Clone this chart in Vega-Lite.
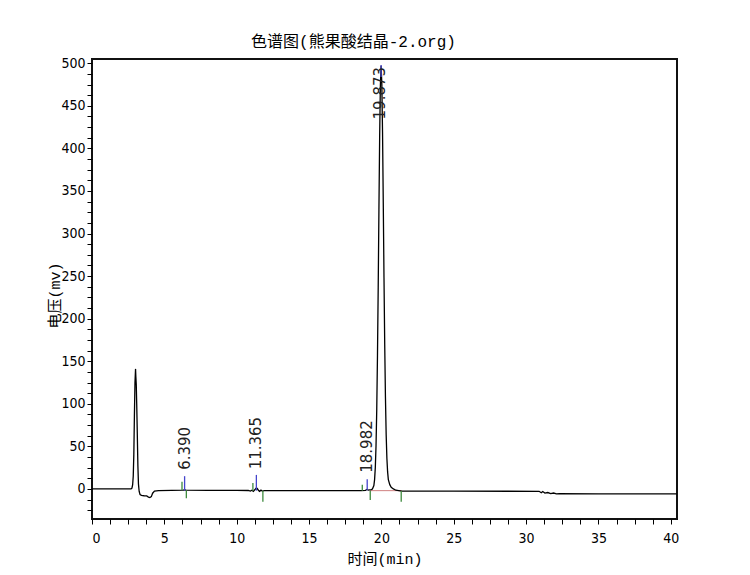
{
  "$schema": "https://vega.github.io/schema/vega-lite/v6.json",
  "autosize": {"type": "none"},
  "padding": {"left": 92, "top": 59, "right": 73, "bottom": 56},
  "width": 585,
  "height": 460,
  "background": "white",
  "config": {
    "view": {"stroke": "#111", "strokeWidth": 2},
    "axis": {
      "grid": false,
      "domain": false,
      "tickColor": "#000",
      "tickSize": 5,
      "labelOverlap": false,
      "labelBound": false,
      "labelFont": "'DejaVu Sans Condensed', 'Liberation Sans'",
      "labelFontSize": 14,
      "labelColor": "#000",
      "titleFont": "'Liberation Mono', 'Noto Sans CJK SC'",
      "titleFontSize": 16,
      "titleFontWeight": "normal",
      "titleColor": "#000"
    }
  },
  "title": {
    "text": "色谱图(熊果酸结晶-2.org)",
    "font": "'Liberation Mono', 'Noto Sans CJK SC'",
    "fontSize": 16,
    "fontWeight": "normal",
    "color": "#000",
    "anchor": "middle",
    "frame": "group",
    "dx": -31,
    "dy": 21,
    "offset": 11,
    "baseline": "bottom"
  },
  "datasets": {
    "trace": [
      {"t": 0, "mv": 0}, {"t": 1, "mv": 0}, {"t": 2, "mv": 0}, {"t": 2.7, "mv": 0},
      {"t": 2.76, "mv": 1}, {"t": 2.81, "mv": 5}, {"t": 2.85, "mv": 15}, {"t": 2.89, "mv": 40},
      {"t": 2.93, "mv": 85}, {"t": 2.97, "mv": 125}, {"t": 3.01, "mv": 141}, {"t": 3.03, "mv": 132},
      {"t": 3.06, "mv": 122}, {"t": 3.09, "mv": 100}, {"t": 3.13, "mv": 65}, {"t": 3.17, "mv": 28},
      {"t": 3.21, "mv": 6}, {"t": 3.26, "mv": -3}, {"t": 3.32, "mv": -6.5}, {"t": 3.42, "mv": -7.5},
      {"t": 3.6, "mv": -8}, {"t": 3.78, "mv": -8.2}, {"t": 3.9, "mv": -9.5}, {"t": 4.0, "mv": -10},
      {"t": 4.1, "mv": -9}, {"t": 4.19, "mv": -5}, {"t": 4.32, "mv": -2.5}, {"t": 4.6, "mv": -2},
      {"t": 5.5, "mv": -1.6}, {"t": 6.3, "mv": -1.5}, {"t": 6.4, "mv": -1.1}, {"t": 6.5, "mv": -1.5},
      {"t": 8, "mv": -1.6}, {"t": 10, "mv": -1.7}, {"t": 10.8, "mv": -1.8}, {"t": 10.95, "mv": -2.6},
      {"t": 11.05, "mv": -1.6}, {"t": 11.15, "mv": -2.8}, {"t": 11.25, "mv": -1}, {"t": 11.32, "mv": 0.5},
      {"t": 11.37, "mv": 1.2}, {"t": 11.43, "mv": 0.2}, {"t": 11.5, "mv": -1.5}, {"t": 11.58, "mv": -2.8},
      {"t": 11.68, "mv": -1.4}, {"t": 11.78, "mv": -2.6}, {"t": 11.9, "mv": -2}, {"t": 13, "mv": -2},
      {"t": 16, "mv": -2}, {"t": 18.6, "mv": -2}, {"t": 18.9, "mv": -1.6}, {"t": 19.0, "mv": -0.6},
      {"t": 19.1, "mv": -1.3}, {"t": 19.3, "mv": -0.8}, {"t": 19.38, "mv": 0},
      {"t": 19.48, "mv": 4}, {"t": 19.53, "mv": 11}, {"t": 19.58, "mv": 25}, {"t": 19.63, "mv": 51},
      {"t": 19.68, "mv": 94}, {"t": 19.73, "mv": 157}, {"t": 19.78, "mv": 237}, {"t": 19.83, "mv": 328},
      {"t": 19.88, "mv": 413}, {"t": 19.93, "mv": 474}, {"t": 19.98, "mv": 497}, {"t": 20.03, "mv": 476},
      {"t": 20.08, "mv": 418}, {"t": 20.13, "mv": 336}, {"t": 20.18, "mv": 248}, {"t": 20.23, "mv": 170},
      {"t": 20.28, "mv": 108}, {"t": 20.33, "mv": 64}, {"t": 20.38, "mv": 36}, {"t": 20.43, "mv": 20},
      {"t": 20.48, "mv": 11}, {"t": 20.58, "mv": 5}, {"t": 20.68, "mv": 2}, {"t": 20.83, "mv": 0},
      {"t": 21.0, "mv": -1.5}, {"t": 21.4, "mv": -2.5}, {"t": 25, "mv": -2.6}, {"t": 30.9, "mv": -2.8},
      {"t": 31.05, "mv": -4.5}, {"t": 31.15, "mv": -3}, {"t": 31.3, "mv": -4.8}, {"t": 31.5, "mv": -4.2},
      {"t": 31.7, "mv": -5.4}, {"t": 31.9, "mv": -4.8}, {"t": 32.1, "mv": -5.8}, {"t": 32.3, "mv": -5.6},
      {"t": 35, "mv": -5.7}, {"t": 40.43, "mv": -5.8}
    ],
    "markers": [
      {"t": 6.40, "mv": -2, "mv2": 15, "kind": "rt"},
      {"t": 11.36, "mv": -2, "mv2": 16.5, "kind": "rt"},
      {"t": 19.02, "mv": -1.5, "mv2": 11.5, "kind": "rt"},
      {"t": 19.98, "mv": 484, "mv2": 498, "kind": "rt"},
      {"t": 6.22, "mv": -1.5, "mv2": 8.5, "kind": "int"},
      {"t": 6.52, "mv": -1.5, "mv2": -11, "kind": "int"},
      {"t": 11.12, "mv": -2, "mv2": 7, "kind": "int"},
      {"t": 11.81, "mv": -2, "mv2": -15, "kind": "int"},
      {"t": 18.68, "mv": -2, "mv2": 5, "kind": "int"},
      {"t": 19.23, "mv": -2, "mv2": -13, "kind": "int"},
      {"t": 21.37, "mv": -2.5, "mv2": -15, "kind": "int"}
    ],
    "baseline": [
      {"t": 19.2, "t2": 21.4, "mv": -2}
    ],
    "labels": [
      {"t": 6.40, "mv": 22.5, "label": "6.390"},
      {"t": 11.36, "mv": 23, "label": "11.365"},
      {"t": 19.02, "mv": 19, "label": "18.982"},
      {"t": 19.9, "mv": 434, "label": "19.873"}
    ]
  },
  "encoding": {
    "x": {
      "field": "t", "type": "quantitative",
      "scale": {"domain": [0, 40.43], "nice": false, "zero": false},
      "axis": {
        "title": "时间(min)",
        "values": [0,1.25,2.5,3.75,5,6.25,7.5,8.75,10,11.25,12.5,13.75,15,16.25,17.5,18.75,20,21.25,22.5,23.75,25,26.25,27.5,28.75,30,31.25,32.5,33.75,35,36.25,37.5,38.75,40],
        "labelExpr": "datum.value % 5 === 0 ? datum.label : ''",
        "labelPadding": 7,
        "titlePadding": 6,
        "titleFontSize": 15
      }
    },
    "y": {
      "field": "mv", "type": "quantitative",
      "scale": {"domain": [-35.3, 505], "nice": false, "zero": false},
      "axis": {
        "title": "电压(mv)",
        "values": [-25,-12.5,0,12.5,25,37.5,50,62.5,75,87.5,100,112.5,125,137.5,150,162.5,175,187.5,200,212.5,225,237.5,250,262.5,275,287.5,300,312.5,325,337.5,350,362.5,375,387.5,400,412.5,425,437.5,450,462.5,475,487.5,500],
        "labelExpr": "datum.value % 50 === 0 ? datum.label : ''",
        "labelPadding": 2,
        "titleX": -38,
        "titleY": 236,
        "titleFontSize": 15,
        "titleAngle": 270,
        "titleAlign": "center",
        "titleBaseline": "middle"
      }
    }
  },
  "layer": [
    {
      "data": {"name": "baseline"},
      "mark": {"type": "rule", "color": "#d08080", "strokeWidth": 1},
      "encoding": {"x2": {"field": "t2"}}
    },
    {
      "data": {"name": "trace"},
      "mark": {"type": "line", "color": "#000", "strokeWidth": 1.3, "clip": true},
      "encoding": {}
    },
    {
      "data": {"name": "markers"},
      "mark": {"type": "rule", "strokeWidth": 1.3},
      "encoding": {
        "y2": {"field": "mv2"},
        "color": {
          "field": "kind", "type": "nominal",
          "scale": {"domain": ["rt", "int"], "range": ["#4444cc", "#3d8a3d"]},
          "legend": null
        }
      }
    },
    {
      "data": {"name": "labels"},
      "mark": {
        "type": "text", "angle": 270, "align": "left", "baseline": "middle",
        "font": "'DejaVu Sans'", "fontSize": 15, "color": "#222"
      },
      "encoding": {"text": {"field": "label"}}
    }
  ]
}
